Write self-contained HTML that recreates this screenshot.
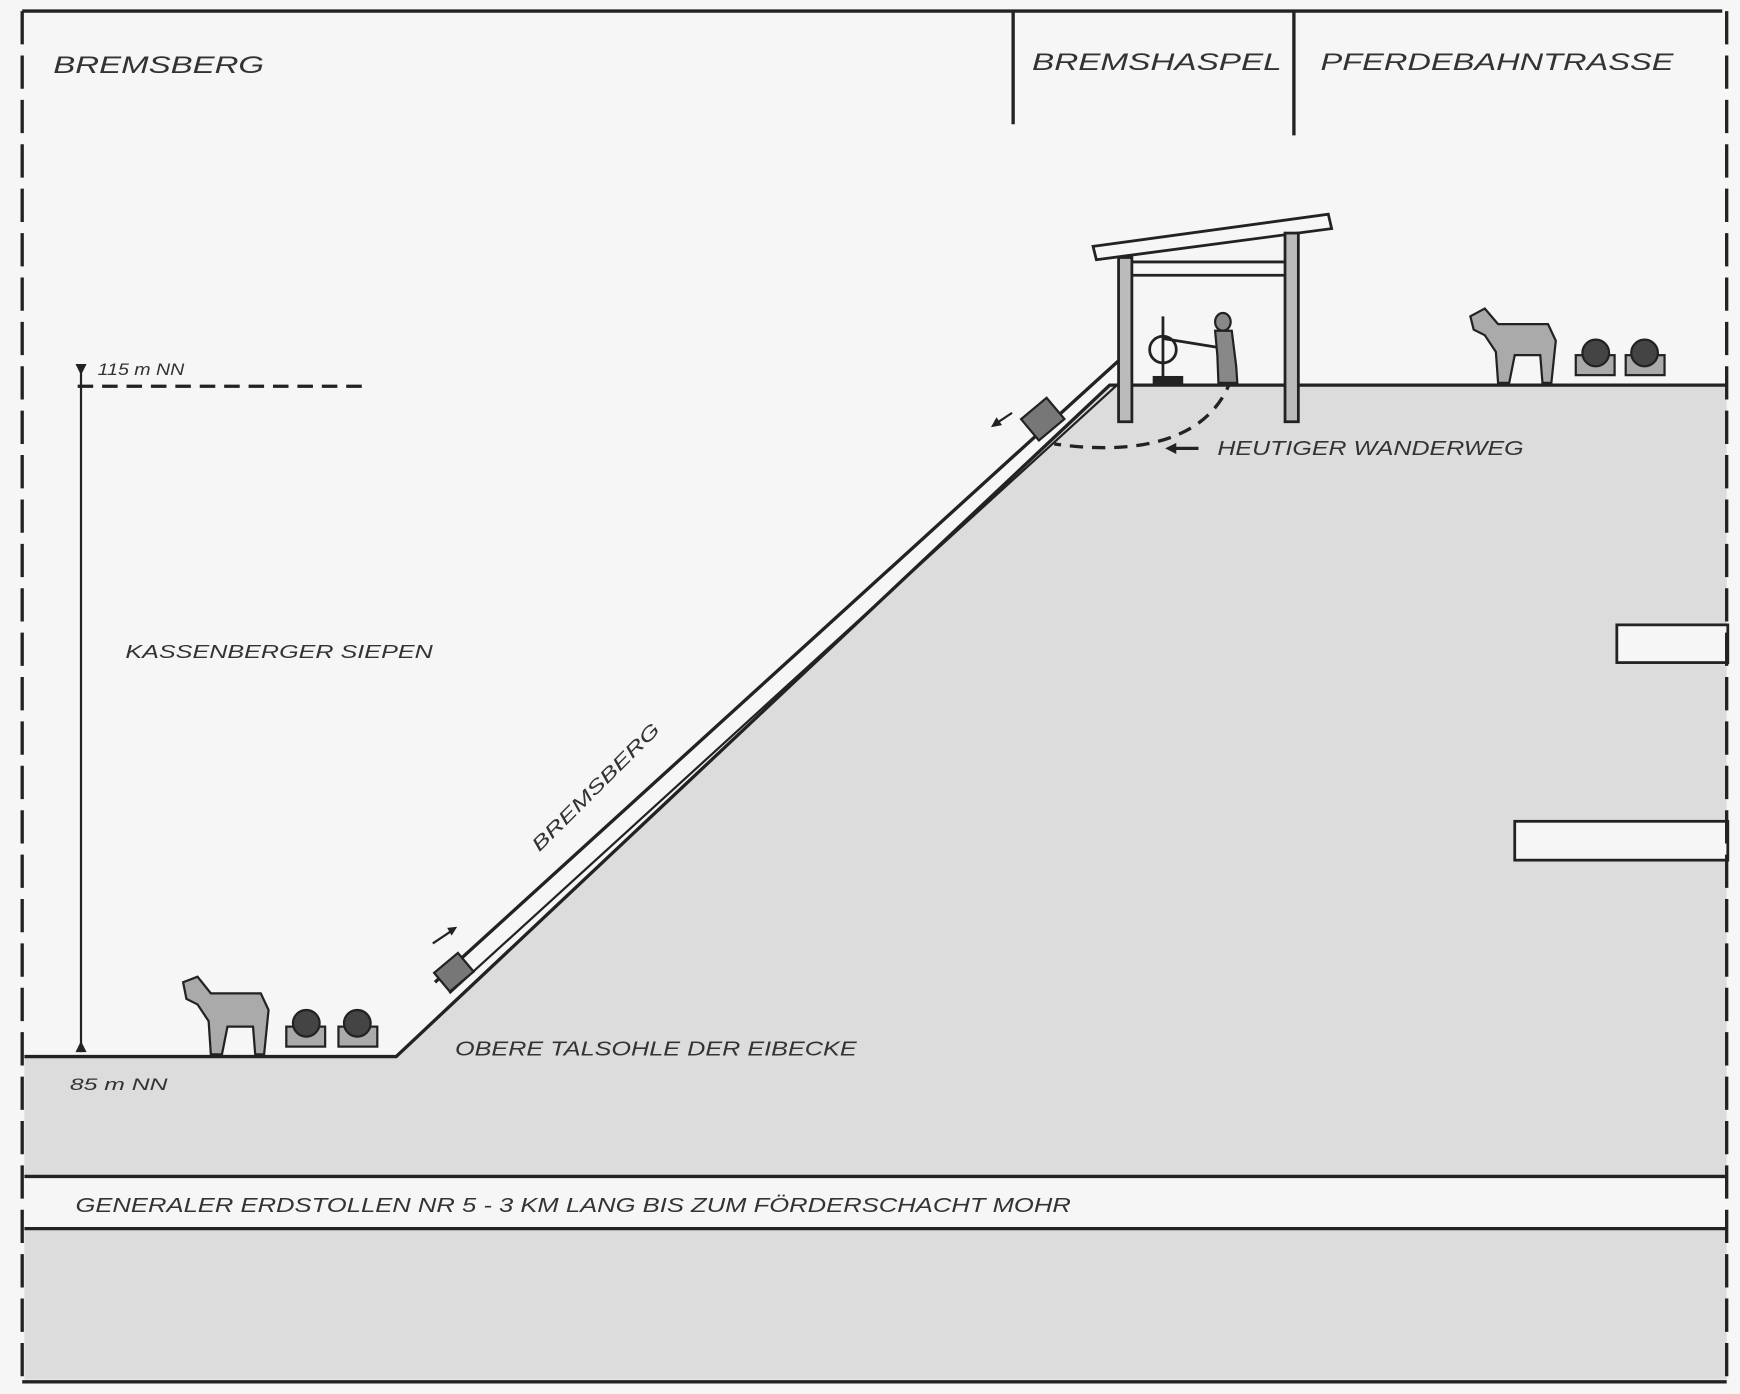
<!DOCTYPE html>
<html><head><meta charset="utf-8"><style>
html,body{margin:0;padding:0;background:#f6f6f6;}
svg{display:block}
text{font-family:"Liberation Sans",sans-serif;font-style:italic;fill:#333;}
</style></head><body>
<svg width="1740" height="1394" viewBox="0 0 1568 1256" preserveAspectRatio="none" xmlns="http://www.w3.org/2000/svg">
<rect width="1568" height="1256" fill="#f6f6f6"/>
<polygon points="22,952 357,952 1000,347 1556,347 1556,1060 22,1060" fill="#dcdcdc"/>
<rect x="22" y="1107" width="1534" height="136" fill="#dcdcdc"/>
<rect x="1457" y="563" width="100" height="34" fill="#f6f6f6" stroke="#222" stroke-width="2.5"/>
<rect x="1365" y="740" width="192" height="35" fill="#f6f6f6" stroke="#222" stroke-width="2.5"/>
<g stroke="#222" stroke-width="3" fill="none">
<polyline points="22,952 357,952 1000,347 1556,347"/>
<line x1="22" y1="1060" x2="1556" y2="1060"/>
<line x1="22" y1="1107" x2="1556" y2="1107"/>
<line x1="20" y1="10" x2="1552" y2="10"/>
<line x1="20" y1="1245" x2="1556" y2="1245"/>
<line x1="913" y1="10" x2="913" y2="112"/>
<line x1="1166" y1="10" x2="1166" y2="122"/>
<line x1="20" y1="10" x2="20" y2="1245" stroke-dasharray="30,10"/>
<line x1="1556" y1="10" x2="1556" y2="1245" stroke-dasharray="30,10"/>
<line x1="392" y1="885" x2="1008" y2="325"/>
<line x1="405" y1="895" x2="1012" y2="342" stroke-width="2"/>
<line x1="70" y1="348" x2="330" y2="348" stroke-dasharray="14,8"/>
<line x1="73" y1="335" x2="73" y2="948" stroke-width="2"/>
<path d="M1110,340 C1090,400 1020,410 950,400" stroke-dasharray="12,8"/>
<line x1="1055" y1="404" x2="1080" y2="404"/>
<line x1="897" y1="382" x2="912" y2="372" stroke-width="2"/>
<line x1="390" y1="850" x2="408" y2="838" stroke-width="2"/>
</g>
<polygon points="68,328 78,328 73,338" fill="#222"/>
<polygon points="68,948 78,948 73,938" fill="#222"/>
<polygon points="1050,404 1060,399 1060,409" fill="#222"/>
<polygon points="893,385 898,376 903,383" fill="#222"/>
<polygon points="412,835 403,836 407,843" fill="#222"/>
<g stroke="#222" stroke-width="2.5">
<polygon points="985,222 1197,193 1200,206 988,234" fill="#f6f6f6"/>
<rect x="1008" y="232" width="12" height="148" fill="#bbb"/>
<rect x="1158" y="210" width="12" height="170" fill="#bbb"/>
<line x1="1020" y1="236" x2="1158" y2="236"/>
<line x1="1020" y1="248" x2="1158" y2="248"/>
<circle cx="1048" cy="315" r="12" fill="#f6f6f6"/>
<line x1="1048" y1="285" x2="1048" y2="345"/>
<line x1="1048" y1="305" x2="1110" y2="315"/>
<rect x="1040" y="340" width="25" height="6" fill="#222"/>
</g>
<ellipse cx="1102" cy="290" rx="7" ry="8" fill="#888" stroke="#222" stroke-width="2"/>
<path d="M1095,298 L1110,298 L1114,330 L1115,345 L1098,345 L1097,320 Z" fill="#888" stroke="#222" stroke-width="2"/>
<rect x="925" y="365" width="30" height="25" transform="rotate(-40 940 378)" fill="#777" stroke="#222" stroke-width="2"/>
<rect x="395" y="865" width="28" height="22" transform="rotate(-40 409 876)" fill="#777" stroke="#222" stroke-width="2"/>
<g fill="#aaa" stroke="#222" stroke-width="2">
<path d="M165,885 L178,880 L190,895 L235,895 L242,910 L238,950 L230,950 L228,925 L205,925 L200,950 L190,950 L188,920 L178,905 L168,900 Z"/>
<rect x="258" y="925" width="35" height="18"/><circle cx="276" cy="922" r="12" fill="#444"/>
<rect x="305" y="925" width="35" height="18"/><circle cx="322" cy="922" r="12" fill="#444"/>
<path d="M1325,285 L1338,278 L1350,292 L1395,292 L1402,307 L1398,345 L1390,345 L1388,320 L1365,320 L1360,345 L1350,345 L1348,317 L1338,302 L1328,297 Z"/>
<rect x="1420" y="320" width="35" height="18"/><circle cx="1438" cy="318" r="12" fill="#444"/>
<rect x="1465" y="320" width="35" height="18"/><circle cx="1482" cy="318" r="12" fill="#444"/>
</g>
<text x="48" y="66" font-size="22" textLength="190" lengthAdjust="spacingAndGlyphs">BREMSBERG</text>
<text x="930" y="63" font-size="22" textLength="225" lengthAdjust="spacingAndGlyphs">BREMSHASPEL</text>
<text x="1190" y="63" font-size="22" textLength="318" lengthAdjust="spacingAndGlyphs">PFERDEBAHNTRASSE</text>
<text x="88" y="338" font-size="15" textLength="78" lengthAdjust="spacingAndGlyphs">115 m NN</text>
<text x="113" y="593" font-size="17" textLength="277" lengthAdjust="spacingAndGlyphs">KASSENBERGER SIEPEN</text>
<text x="1097" y="410" font-size="18" textLength="276" lengthAdjust="spacingAndGlyphs">HEUTIGER WANDERWEG</text>
<text x="410" y="951" font-size="18" textLength="362" lengthAdjust="spacingAndGlyphs">OBERE TALSOHLE DER EIBECKE</text>
<text x="63" y="982" font-size="15" textLength="88" lengthAdjust="spacingAndGlyphs">85 m NN</text>
<text x="68" y="1092" font-size="18" textLength="897" lengthAdjust="spacingAndGlyphs">GENERALER ERDSTOLLEN NR 5 - 3 KM LANG BIS  ZUM FÖRDERSCHACHT MOHR</text>
<text x="0" y="0" font-size="17" textLength="155" lengthAdjust="spacingAndGlyphs" transform="translate(486,768) rotate(-45)">BREMSBERG</text>
</svg>
</body></html>
